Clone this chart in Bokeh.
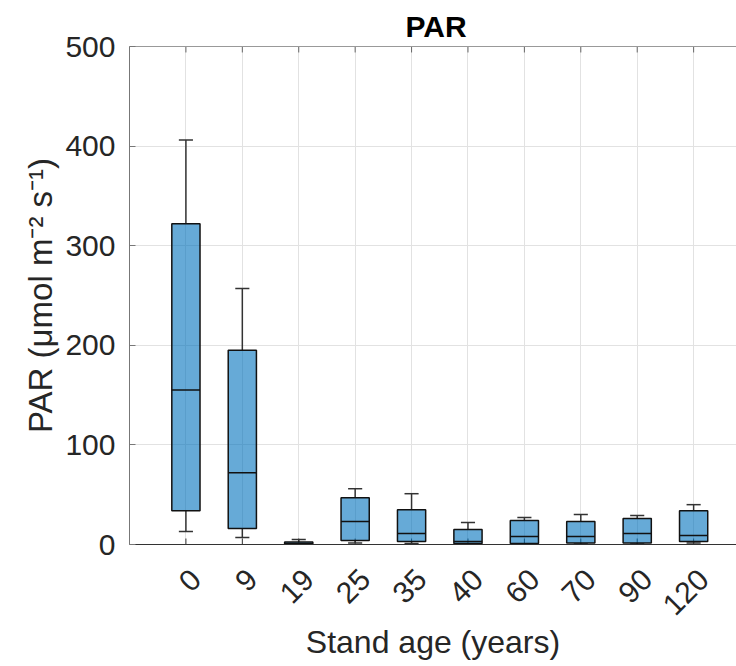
import numpy as np
import math
from bokeh.plotting import figure
from bokeh.models import Range1d, FixedTicker, LinearAxis, ColumnDataSource
from bokeh.embed import file_html
from bokeh.resources import INLINE

# ---- data ----
ages = ["0", "9", "19", "25", "35", "40", "60", "70", "90", "120"]
upper_whisker = [406, 257, 5, 56, 51, 22, 27, 30, 29, 40]
q3 = [322, 195, 2.5, 47, 35, 15, 24, 23, 26, 34]
median = [155, 72, 1, 23, 11, 3, 8, 8, 11, 9]
q1 = [34, 16, 0.2, 4, 3, 1, 1, 1.5, 1.5, 3]
lower_whisker = [13, 7, 0, 1.5, 1, 0.5, 0.5, 0.5, 0.5, 1.5]
y_ticks = [0, 100, 200, 300, 400, 500]

FONT = "Liberation Sans"
TXT = "#262626"

XMAX = 10.76
YMIN, YMAX = 0, 500
LABEL_SHIFT = 0.177          # tick labels sit a little right of their ticks
TICK_LEN = 6                 # in data units (~px)

xs = np.arange(1, len(ages) + 1)
box_w = 0.5
cap_w = 0.25

src = ColumnDataSource(dict(
    x=xs, q1=q1, q3=q3, med=median, lo=lower_whisker, hi=upper_whisker,
    xl=xs - box_w / 2, xr=xs + box_w / 2,
    cl=xs - cap_w / 2, cr=xs + cap_w / 2,
))

p = figure(width=736, height=666,
           x_range=Range1d(0, XMAX), y_range=Range1d(YMIN, YMAX),
           output_backend="svg", toolbar_location=None,
           min_border_left=129, min_border_right=0,
           min_border_top=46, min_border_bottom=122)
p.outline_line_color = None
p.background_fill_color = "white"
p.border_fill_color = "white"
p.extra_x_ranges = {"lab": Range1d(0 - LABEL_SHIFT, XMAX - LABEL_SHIFT)}

# title
p.title.text = "PAR"
p.title.align = "left"
p.title.offset = 276
p.title.text_font = FONT
p.title.text_font_size = "30px"
p.title.text_font_style = "bold"
p.title.text_color = "black"
p.title.standoff = 7

# grids
p.xgrid.ticker = FixedTicker(ticks=list(xs))
p.ygrid.ticker = FixedTicker(ticks=y_ticks)
for g in (p.xgrid, p.ygrid):
    g.grid_line_color = "#e2e2e2"
    g.grid_line_width = 1

# tick marks pointing inside at bottom and top (box on)
tick_src = ColumnDataSource(dict(x=xs, b0=[YMIN] * len(xs), b1=[YMIN + TICK_LEN] * len(xs),
                                 t0=[YMAX] * len(xs), t1=[YMAX - TICK_LEN] * len(xs)))
p.segment(x0="x", y0="b0", x1="x", y1="b1", source=tick_src, line_color="#333333", line_width=1)
p.segment(x0="x", y0="t0", x1="x", y1="t1", source=tick_src, line_color="#666666", line_width=1)

# whiskers
wsty = dict(line_color="#333333", line_width=1.5)
p.segment(x0="x", y0="q3", x1="x", y1="hi", source=src, **wsty)
p.segment(x0="x", y0="q1", x1="x", y1="lo", source=src, **wsty)
p.segment(x0="cl", y0="hi", x1="cr", y1="hi", source=src, **wsty)
p.segment(x0="cl", y0="lo", x1="cr", y1="lo", source=src, **wsty)

# boxes
p.vbar(x="x", width=box_w, bottom="q1", top="q3", source=src,
       fill_color="#0072BD", fill_alpha=0.6,
       line_color="#111111", line_width=1.5)
p.segment(x0="xl", y0="med", x1="xr", y1="med", source=src,
          line_color="#111111", line_width=1.5)

# x axis (labels on the slightly shifted range)
xa = p.xaxis[0]
xa.x_range_name = "lab"
xa.ticker = FixedTicker(ticks=list(xs))
xa.major_label_overrides = {int(i): a for i, a in zip(xs, ages)}
xa.major_label_orientation = math.pi / 4
xa.major_label_text_font = FONT
xa.major_label_text_font_size = "30px"
xa.major_label_text_color = TXT
xa.major_label_standoff = 30
xa.major_tick_in = 0
xa.major_tick_out = 0
xa.major_tick_line_color = None
xa.minor_tick_line_color = None
xa.axis_line_color = "#333333"
xa.axis_label = "Stand age (years)"
xa.axis_label_text_font = FONT
xa.axis_label_text_font_size = "32px"
xa.axis_label_text_font_style = "normal"
xa.axis_label_text_color = TXT
xa.axis_label_standoff = -3

# y axis
ya = p.yaxis[0]
ya.ticker = FixedTicker(ticks=y_ticks)
ya.major_label_text_font = FONT
ya.major_label_text_font_size = "30px"
ya.major_label_text_color = TXT
ya.major_label_standoff = 14
ya.major_tick_in = 6
ya.major_tick_out = 0
ya.minor_tick_line_color = None
ya.axis_line_color = "#777777"
ya.major_tick_line_color = "#777777"
ya.axis_label = "PAR (μmol m⁻² s⁻¹)"
ya.axis_label_text_font = FONT
ya.axis_label_text_font_size = "33px"
ya.axis_label_text_font_style = "normal"
ya.axis_label_text_color = TXT
ya.axis_label_standoff = 3

# top box line
top = LinearAxis(ticker=FixedTicker(ticks=[]),
                 major_tick_in=0, major_tick_out=0,
                 minor_tick_line_color=None, major_label_standoff=0,
                 axis_line_color="#999999")
p.add_layout(top, "above")

open("out.html", "w").write(file_html(p, INLINE))
